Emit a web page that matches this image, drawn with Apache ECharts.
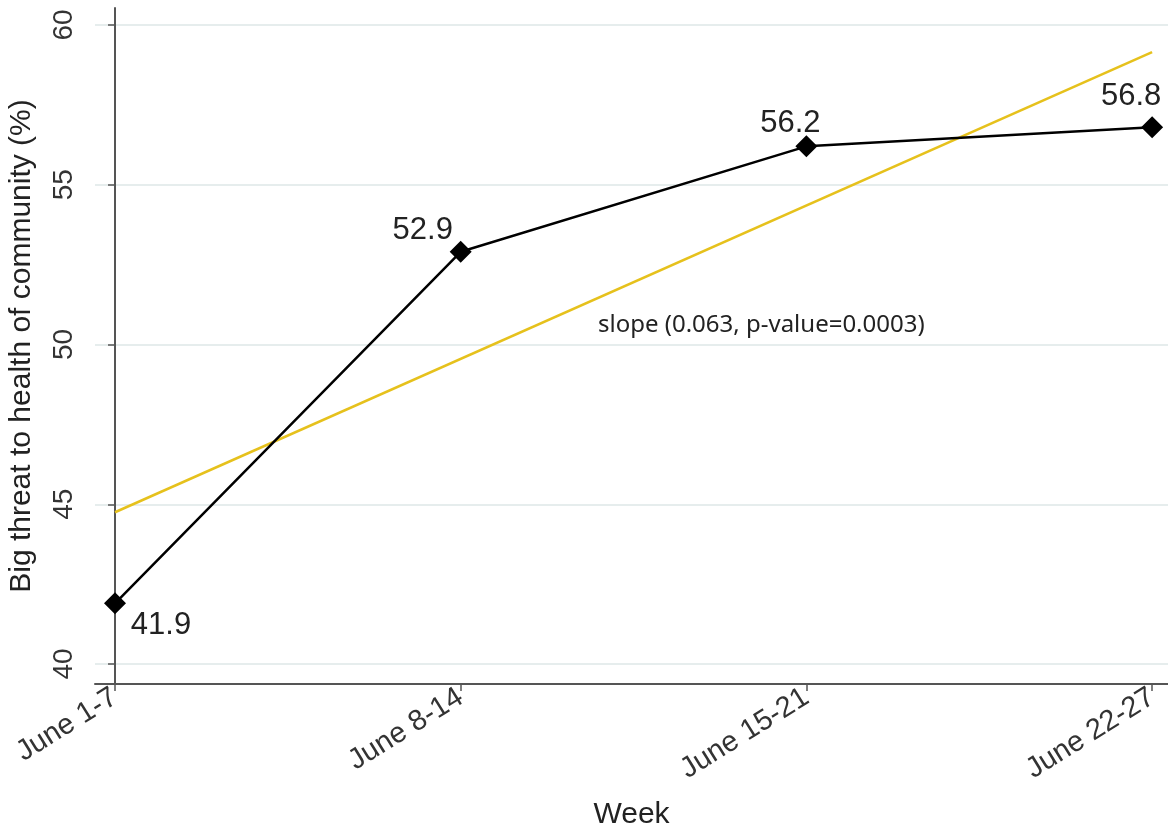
<!DOCTYPE html>
<html>
<head>
<meta charset="utf-8">
<title>Big threat to health of community</title>
<script src="https://cdn.jsdelivr.net/npm/echarts@6/dist/echarts.min.js"></script>
<style>
  html, body { margin: 0; padding: 0; background: #fff; }
  #chart { width: 1168px; height: 828px; }
</style>
</head>
<body>
<div id="chart"></div>
<script>
  // 周次
  var weeks = ['June 1-7', 'June 8-14', 'June 15-21', 'June 22-27'];
  // 各周百分比
  var threatPct = [41.9, 52.9, 56.2, 56.8];
  // 趋势线两端 (周序号, 值)
  var trendX = [0, 3];
  var trendY = [44.75, 59.15];
  // y轴刻度
  var yTicks = [40, 45, 50, 55, 60];
  var slopeText = 'slope (0.063, p-value=0.0003)';

  var chart = echarts.init(document.getElementById('chart'));

  var font = '"Liberation Sans", Arial, sans-serif';
  var axisColor = '#555';

  // 标签相对点的偏移
  var labelOffsets = [[46, 22], [-38, -21], [-16, -23], [-21, -31]];

  var mainData = threatPct.map(function (v, i) {
    return {
      value: [i, v],
      label: { offset: labelOffsets[i] }
    };
  });

  var trendData = trendX.map(function (x, i) {
    return [x, trendY[i]];
  });

  var option = {
    animation: false,
    backgroundColor: '#fff',
    grid: {
      left: 95,
      right: 0,
      top: 8,
      bottom: 144,
      outerBoundsMode: 'none',
      containLabel: false
    },
    xAxis: {
      type: 'value',
      min: -0.0579,
      max: 3.046,
      name: 'Week',
      nameLocation: 'middle',
      nameGap: 116,
      nameTextStyle: { fontFamily: font, fontSize: 30, color: '#222' },
      axisLine: { show: true, onZero: false, lineStyle: { color: axisColor, width: 2 } },
      axisTick: {
        show: true,
        length: 7,
        customValues: [0, 1, 2, 3],
        lineStyle: { color: axisColor, width: 1.5 }
      },
      axisLabel: {
        customValues: [0, 1, 2, 3],
        rotate: 32,
        margin: 11,
        fontFamily: font,
        fontSize: 29,
        color: '#333',
        formatter: function (v) {
          return weeks[Math.round(v)];
        }
      },
      splitLine: { show: false }
    },
    yAxis: {
      type: 'value',
      min: 39.375,
      max: 60.53,
      name: 'Big threat to health of community (%)',
      nameLocation: 'middle',
      nameGap: 58,
      nameRotate: 90,
      nameTextStyle: { fontFamily: font, fontSize: 30, color: '#222' },
      axisLine: { show: true, lineStyle: { color: axisColor, width: 2 } },
      axisTick: {
        show: true,
        length: 7,
        customValues: yTicks,
        lineStyle: { color: axisColor, width: 1.5 }
      },
      axisLabel: {
        customValues: yTicks,
        rotate: 90,
        margin: 17,
        fontFamily: font,
        fontSize: 28,
        color: '#333'
      },
      splitLine: {
        show: true,
        lineStyle: { color: '#e6eded', width: 2 }
      }
    },
    graphic: [{
      type: 'text',
      left: 598,
      top: 313,
      style: {
        text: slopeText,
        font: '24px "Noto Sans", "Open Sans", sans-serif',
        fill: '#222'
      }
    }],
    series: [{
      name: 'trend',
      type: 'line',
      data: trendData,
      symbol: 'none',
      lineStyle: { color: '#e6c11c', width: 2.5 },
      z: 2
    }, {
      name: 'pct',
      type: 'line',
      data: mainData,
      symbol: 'diamond',
      symbolSize: 22,
      itemStyle: { color: '#000' },
      lineStyle: { color: '#000', width: 2.5 },
      label: {
        show: true,
        position: 'inside',
        fontFamily: font,
        fontSize: 31,
        color: '#222',
        formatter: function (p) {
          return p.value[1].toFixed(1);
        }
      },
      z: 3
    }]
  };

  chart.setOption(option);
</script>
</body>
</html>
